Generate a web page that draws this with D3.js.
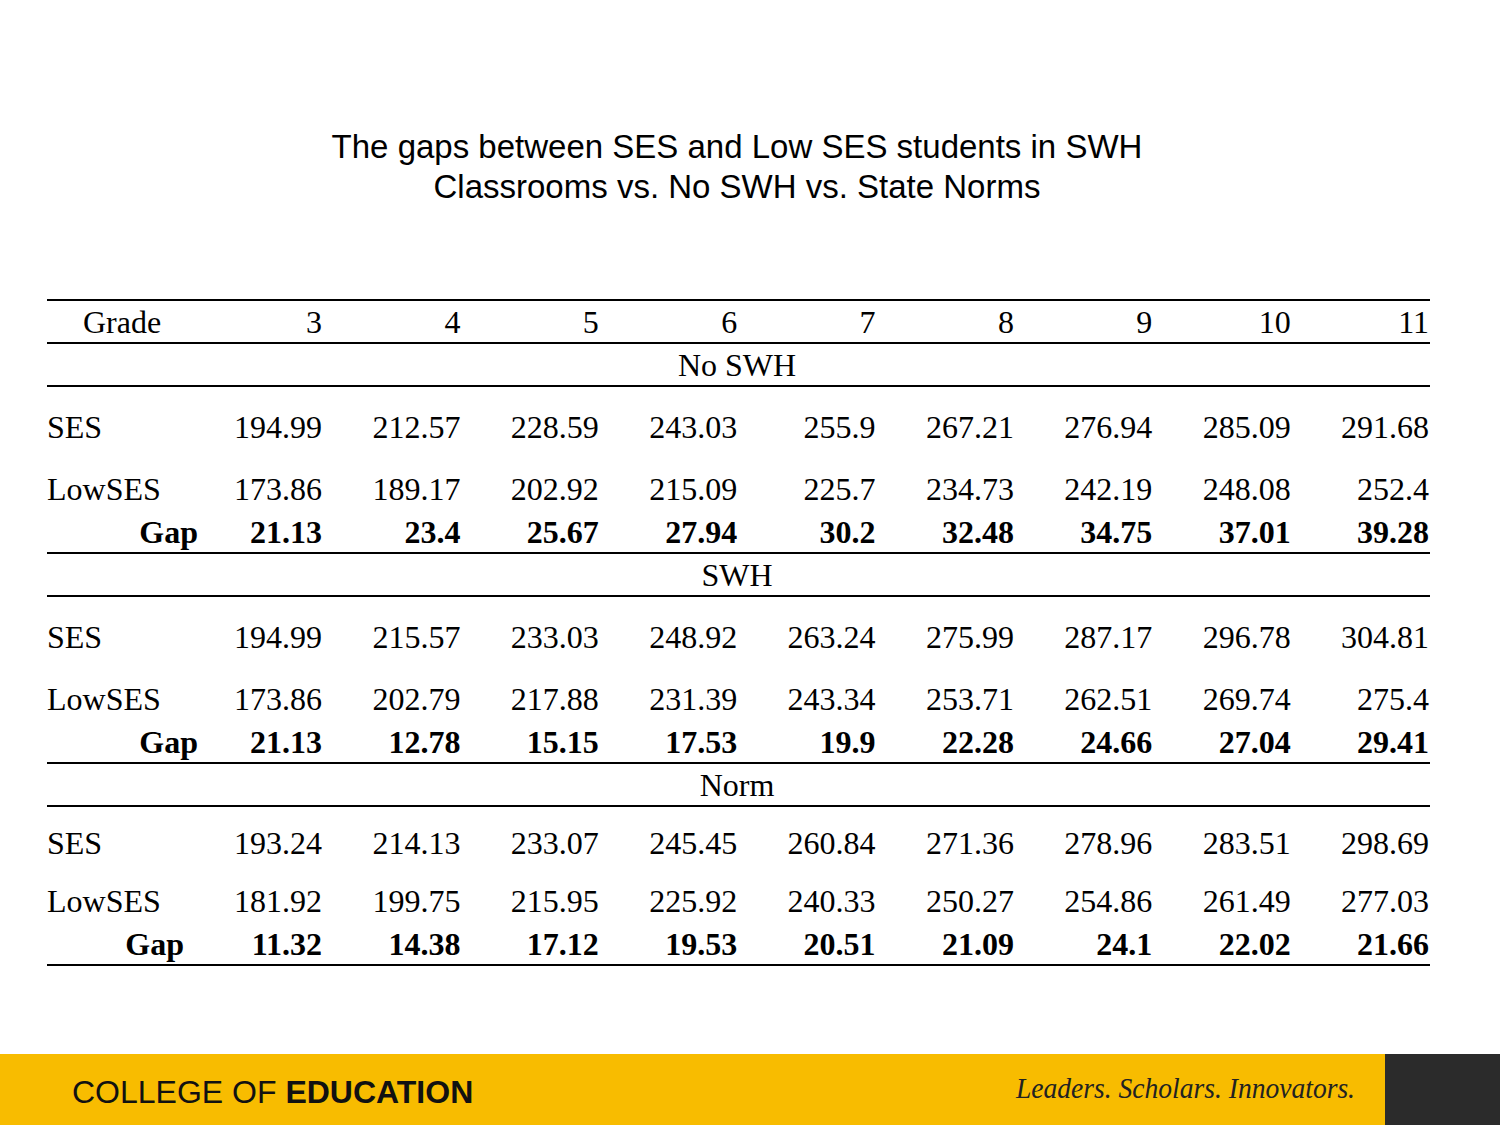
<!DOCTYPE html>
<html><head><meta charset="utf-8">
<script src="https://cdn.jsdelivr.net/npm/d3@7"></script>
<style>body{margin:0;background:#fff}</style>
</head><body>
<svg id="c" width="1500" height="1125"></svg>
<script>
const grades = ["3","4","5","6","7","8","9","10","11"];
const noSwhSes = ["194.99","212.57","228.59","243.03","255.9","267.21","276.94","285.09","291.68"];
const noSwhLow = ["173.86","189.17","202.92","215.09","225.7","234.73","242.19","248.08","252.4"];
const noSwhGap = ["21.13","23.4","25.67","27.94","30.2","32.48","34.75","37.01","39.28"];
const swhSes = ["194.99","215.57","233.03","248.92","263.24","275.99","287.17","296.78","304.81"];
const swhLow = ["173.86","202.79","217.88","231.39","243.34","253.71","262.51","269.74","275.4"];
const swhGap = ["21.13","12.78","15.15","17.53","19.9","22.28","24.66","27.04","29.41"];
const normSes = ["193.24","214.13","233.07","245.45","260.84","271.36","278.96","283.51","298.69"];
const normLow = ["181.92","199.75","215.95","225.92","240.33","250.27","254.86","261.49","277.03"];
const normGap = ["11.32","14.38","17.12","19.53","20.51","21.09","24.1","22.02","21.66"];

const sections = [
  {name:"No SWH", ses:noSwhSes, low:noSwhLow, gap:noSwhGap, y:343, gapX:198},
  {name:"SWH", ses:swhSes, low:swhLow, gap:swhGap, y:553, gapX:198},
  {name:"Norm", ses:normSes, low:normLow, gap:normGap, y:763, gapX:184, tight:true}
];

const svg = d3.select("#c");
const x = d3.scalePoint().domain(grades).range([322, 1429]);
const serif = "'Liberation Serif','Times New Roman',serif";
const sans = "'Liberation Sans',Arial,sans-serif";

svg.append("text").attr("x",737).attr("y",158).attr("text-anchor","middle")
  .style("font-family",sans).style("font-size","33px")
  .text("The gaps between SES and Low SES students in SWH");
svg.append("text").attr("x",737).attr("y",198).attr("text-anchor","middle")
  .style("font-family",sans).style("font-size","33px")
  .text("Classrooms vs. No SWH vs. State Norms");

const t = svg.append("g").style("font-family",serif).style("font-size","32px").attr("fill","#000");
const hline = (y,w) => t.append("line").attr("x1",47).attr("x2",1430).attr("y1",y).attr("y2",y)
  .attr("stroke","#000").attr("stroke-width",w||2);

hline(300,2);
t.append("text").attr("x",83).attr("y",333).text("Grade");
t.selectAll(".gh").data(grades).join("text").attr("x",d=>x(d)).attr("y",333)
  .attr("text-anchor","end").text(d=>d);

function row(vals, y, bold){
  t.append("g").selectAll("text").data(vals).join("text")
    .attr("x",(d,i)=>x(grades[i])).attr("y",y).attr("text-anchor","end")
    .style("font-weight",bold?"bold":null).text(d=>d);
}

sections.forEach(s=>{
  const y0 = s.y;
  hline(y0,2);
  t.append("text").attr("x",737).attr("y",y0+33).attr("text-anchor","middle").text(s.name);
  hline(y0+43,2);
  const sy = s.tight ? y0+91 : y0+95;
  const ly = s.tight ? y0+149 : y0+157;
  const gy = s.tight ? y0+192 : y0+200;
  t.append("text").attr("x",47).attr("y",sy).text("SES");
  row(s.ses, sy);
  t.append("text").attr("x",47).attr("y",ly).text("LowSES");
  row(s.low, ly);
  t.append("text").attr("x",s.gapX).attr("y",gy).attr("text-anchor","end").style("font-weight","bold").text("Gap");
  row(s.gap, gy, true);
});
hline(965,2);

svg.append("rect").attr("x",0).attr("y",1054).attr("width",1500).attr("height",71).attr("fill","#F8BC00");
svg.append("rect").attr("x",1385).attr("y",1054).attr("width",115).attr("height",71).attr("fill","#2b2b2b");
const f = svg.append("text").attr("x",72).attr("y",1103)
  .style("font-family",sans).style("font-size","32px").attr("fill","#111");
f.append("tspan").text("COLLEGE OF ");
f.append("tspan").style("font-weight","bold").text("EDUCATION");
svg.append("text").attr("x",1016).attr("y",1098)
  .attr("textLength",339).attr("lengthAdjust","spacingAndGlyphs")
  .style("font-family",serif).style("font-style","italic").style("font-size","30px")
  .attr("fill","#222").text("Leaders. Scholars. Innovators.");
</script>
</body></html>
